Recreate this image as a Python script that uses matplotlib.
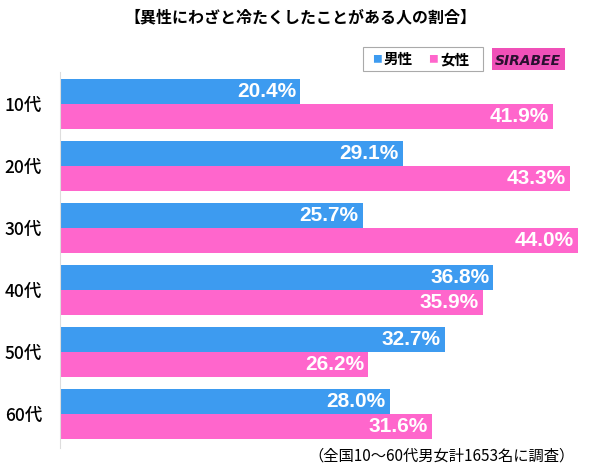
import matplotlib.pyplot as plt
import numpy as np
from matplotlib.patches import Rectangle

plt.rcParams['font.family'] = ['Noto Sans CJK JP', 'DejaVu Sans']

ages = ['10代', '20代', '30代', '40代', '50代', '60代']
male = [20.4, 29.1, 25.7, 36.8, 32.7, 28.0]
female = [41.9, 43.3, 44.0, 35.9, 26.2, 31.6]

BLUE = '#3d9bf0'
PINK = '#ff66cc'

fig = plt.figure(figsize=(6, 4.7), dpi=100)
ax = fig.add_axes([0.1, 0.047, 0.885, 0.8])

y = np.arange(len(ages))
h = 0.4
ax.barh(y - h / 2, male, height=h, color=BLUE)
ax.barh(y + h / 2, female, height=h, color=PINK)

for i, (m, f) in enumerate(zip(male, female)):
    ax.text(m - 0.35, i - h / 2, f'{m:.1f}%', color='white', fontsize=15,
            fontweight='bold', ha='right', va='center', family='Liberation Sans')
    ax.text(f - 0.35, i + h / 2, f'{f:.1f}%', color='white', fontsize=15,
            fontweight='bold', ha='right', va='center', family='Liberation Sans')

ax.set_xlim(0, 45.1)
ax.set_ylim(5.55, -0.52)
ax.set_yticks(y)
ax.set_yticklabels(ages, fontsize=12.5, fontweight='medium')
ax.tick_params(axis='y', length=0, pad=13)
ax.set_xticks([])
for s in ['top', 'right', 'bottom']:
    ax.spines[s].set_visible(False)
ax.spines['left'].set_color('#dddddd')

fig.text(0.5, 0.962, '【異性にわざと冷たくしたことがある人の割合】', ha='center', va='center',
         fontsize=11.5, fontweight='bold')

# legend box
fig.patches.append(Rectangle((363 / 600, 1 - 71 / 470), 120 / 600, 24 / 470,
                             transform=fig.transFigure, facecolor='white',
                             edgecolor='#aaaaaa', lw=0.8))
fig.text(377 / 600, 1 - 59 / 470, '■', color=BLUE, fontsize=7, ha='center', va='center')
fig.text(384 / 600, 1 - 59 / 470, '男性', fontsize=10.5, fontweight='bold', ha='left', va='center')
fig.text(433 / 600, 1 - 59 / 470, '■', color=PINK, fontsize=7, ha='center', va='center')
fig.text(440 / 600, 1 - 59 / 470, '女性', fontsize=10.5, fontweight='bold', ha='left', va='center')

# logo
fig.patches.append(Rectangle((492 / 600, 1 - 70 / 470), 73 / 600, 22 / 470,
                             transform=fig.transFigure, facecolor='#f050b8', edgecolor='none'))
fig.text(528 / 600, 1 - 61 / 470, 'SIRABEE', fontsize=10, fontweight='bold', style='italic',
         color='#2a1030', ha='center', va='center', family='DejaVu Sans')

fig.text(575 / 600, 1 - 456 / 470, '（全国10～60代男女計1653名に調査）', ha='right', va='center',
         fontsize=11)

fig.savefig('out.png', dpi=100)
